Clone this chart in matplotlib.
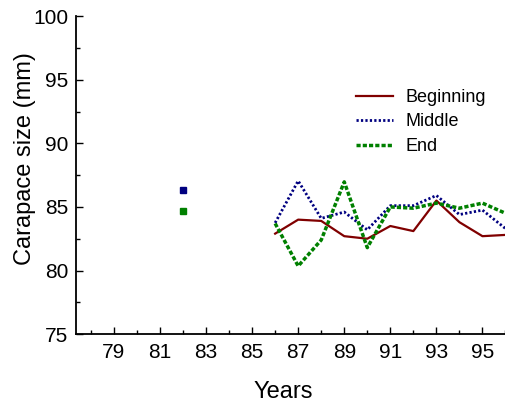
import matplotlib
matplotlib.use("Agg")
import matplotlib.pyplot as plt
from matplotlib.ticker import MultipleLocator

plt.rcParams['font.family'] = ['Liberation Sans', 'DejaVu Sans']

years = [86, 87, 88, 89, 90, 91, 92, 93, 94, 95, 96]
beginning = [82.9, 84.0, 83.9, 82.7, 82.5, 83.5, 83.1, 85.5, 83.8, 82.7, 82.8]
middle = [83.75, 87.05, 84.1, 84.6, 83.2, 85.1, 85.1, 85.9, 84.4, 84.75, 83.3]
end = [83.7, 80.35, 82.4, 86.97, 81.8, 85.0, 84.9, 85.3, 84.9, 85.3, 84.5]

single_year = [82]
single_middle = [86.3]
single_end = [84.65]

xtick_labels = [79, 81, 83, 85, 87, 89, 91, 93, 95]

fig = plt.figure(figsize=(5.06, 4.04), dpi=100)
ax = fig.add_axes([0.150, 0.173, 0.849, 0.787])

ax.plot(years, beginning, color='#800000', lw=1.6, ls='-', label='Beginning', clip_on=False)
ax.plot(years, middle, color='#000080', lw=2.0, ls=(0, (0.8, 0.8)), label='Middle', clip_on=False)
ax.plot(years, end, color='#008000', lw=2.5, ls=(0, (1.2, 0.6)), label='End', clip_on=False)
ax.plot(single_year, single_middle, 's', color='#000080', ms=5, mec='#000080')
ax.plot(single_year, single_end, 's', color='#008000', ms=5, mec='#008000')

ax.set_xlim(77.35, 96.0)
ax.set_ylim(75, 100)
ax.set_xticks(xtick_labels)
ax.set_xticklabels([str(v) for v in xtick_labels])
ax.xaxis.set_minor_locator(MultipleLocator(1))
ax.yaxis.set_major_locator(MultipleLocator(5))
ax.yaxis.set_minor_locator(MultipleLocator(2.5))

for s in ['top', 'right']:
    ax.spines[s].set_visible(False)
for s in ['left', 'bottom']:
    ax.spines[s].set_linewidth(1.3)

ax.tick_params(which='major', direction='in', length=5, width=1.0, labelsize=15)
ax.tick_params(which='minor', direction='in', length=3, width=1.0)
ax.tick_params(axis='x', which='major', pad=6.5)
ax.tick_params(axis='y', which='major', pad=5.5)

ax.set_xlabel('Years', fontsize=17)
ax.set_ylabel('Carapace size (mm)', fontsize=17)
ax.xaxis.set_label_coords(0.482, -0.146)
ax.yaxis.set_label_coords(-0.093, 0.553)

leg = ax.legend(loc='upper left', bbox_to_anchor=(0.636, 0.794), frameon=False,
                fontsize=13, handlelength=2.05, handletextpad=0.67, labelspacing=0.42,
                borderaxespad=0)

fig.savefig('out.png', dpi=100)
